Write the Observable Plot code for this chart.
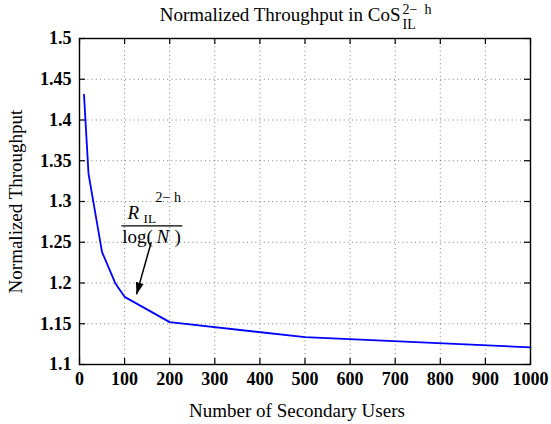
<!DOCTYPE html>
<html><head><meta charset="utf-8">
<script src="https://cdn.jsdelivr.net/npm/d3@7"></script>
<script src="https://cdn.jsdelivr.net/npm/@observablehq/plot@0.6"></script>
<style>
body{margin:0;background:#fff}
#chart svg{display:block}
#chart svg text{font-family:'Liberation Serif','Times New Roman',serif !important}
#chart svg g[aria-label$="tick label"] text, #chart svg g[aria-label$="tick label"]{font-family:'Liberation Serif','Times New Roman',serif !important;font-weight:bold !important;font-size:18px !important;font-variant:normal !important}
</style>
</head><body><div id="chart"></div>
<script>
// ---- data ----
const users = [10, 20, 50, 80, 100, 200, 500, 1000];
const throughput = [1.431, 1.334, 1.238, 1.199, 1.183, 1.152, 1.1335, 1.121];
const xTicks = [0, 100, 200, 300, 400, 500, 600, 700, 800, 900, 1000];
const yTicks = [1.1, 1.15, 1.2, 1.25, 1.3, 1.35, 1.4, 1.45, 1.5];
const yTickLabels = ["1.1", "1.15", "1.2", "1.25", "1.3", "1.35", "1.4", "1.45", "1.5"];
const titleMain = "Normalized Throughput in CoS";
const titleSup = "2\u2212\u2002h";
const titleSub = "IL";
const xLabel = "Number of Secondary Users";
const yLabel = "Normalized Throughput";
// annotation anchored in data space
const annotAnchor = [{x: 100, y: 1.27}];
const fracBar = [{x1: 93, x2: 228, y: 1.27}];
const arrowSeg = [{x1: 159, y1: 1.250, x2: 126.4, y2: 1.186}];

const W = 551, H = 424, mL = 79, mR = 21, mT = 38, mB = 60;
const plotW = W - mL - mR, plotH = H - mT - mB;
const data = users.map((u, i) => ({u, t: throughput[i]}));

function headMarker(color, context) {
  const ns = "http://www.w3.org/2000/svg";
  const m = document.createElementNS(ns, "marker");
  m.setAttribute("viewBox", "0 -5 12 10");
  m.setAttribute("markerWidth", 12);
  m.setAttribute("markerHeight", 10);
  m.setAttribute("refX", 12);
  m.setAttribute("refY", 0);
  m.setAttribute("orient", "auto");
  m.setAttribute("markerUnits", "userSpaceOnUse");
  const p = document.createElementNS(ns, "path");
  p.setAttribute("d", "M0,-4L12,0L0,4Z");
  p.setAttribute("fill", "black");
  p.setAttribute("stroke", "none");
  m.appendChild(p);
  return m;
}

const chart = Plot.plot({
  width: W, height: H,
  marginLeft: mL, marginRight: mR, marginTop: mT, marginBottom: mB,
  style: {fontFamily: "'Liberation Serif', 'Times New Roman', serif", background: "white", color: "black"},
  x: {domain: [0, 1000]},
  y: {domain: [1.1, 1.5]},
  marks: [
    Plot.gridX(xTicks.slice(1, -1), {stroke: "#000", strokeOpacity: 0.5, strokeDasharray: "1,3.2"}),
    Plot.gridY(yTicks.slice(1, -1), {stroke: "#000", strokeOpacity: 0.5, strokeDasharray: "1,3.2"}),
    Plot.tickX(xTicks, {x: d => d, insetTop: plotH - 6, stroke: "black", strokeWidth: 1.2}),
    Plot.tickX(xTicks, {x: d => d, insetBottom: plotH - 6, stroke: "black", strokeWidth: 1.2}),
    Plot.tickY(yTicks, {y: d => d, insetRight: plotW - 6, stroke: "black", strokeWidth: 1.2}),
    Plot.tickY(yTicks, {y: d => d, insetLeft: plotW - 6, stroke: "black", strokeWidth: 1.2}),
    Plot.axisX({ticks: xTicks, tickSize: 0, tickPadding: 8, fontSize: 18, fontWeight: "bold", label: null, tickFormat: d => String(d)}),
    Plot.axisY({ticks: yTicks, tickSize: 0, tickPadding: 8, fontSize: 18, fontWeight: "bold", label: null, tickFormat: d => yTickLabels[yTicks.indexOf(d)]}),
    Plot.line(data, {x: "u", y: "t", stroke: "#0000ff", strokeWidth: 1.8}),
    Plot.frame({stroke: "black", strokeWidth: 1.4}),
    // annotation
    Plot.text(annotAnchor, {x: "x", y: "y", text: () => "R", fontStyle: "italic", fontSize: 19, textAnchor: "start", lineAnchor: "bottom", dx: 3, dy: -6.5}),
    Plot.text(annotAnchor, {x: "x", y: "y", text: () => "IL", fontSize: 13, textAnchor: "start", lineAnchor: "bottom", dx: 19, dy: -2.5}),
    Plot.text(annotAnchor, {x: "x", y: "y", text: () => "2\u2212 h", fontSize: 14, textAnchor: "start", lineAnchor: "bottom", dx: 31, dy: -24}),
    Plot.link(fracBar, {x1: "x1", x2: "x2", y1: "y", y2: "y", stroke: "black", strokeWidth: 1.3}),
    Plot.text(annotAnchor, {x: "x", y: "y", text: () => "log(", fontSize: 19, textAnchor: "start", lineAnchor: "bottom", dx: -2.4, dy: 17.5}),
    Plot.text(annotAnchor, {x: "x", y: "y", text: () => "N", fontStyle: "italic", fontSize: 19, textAnchor: "start", lineAnchor: "bottom", dx: 32, dy: 17.5}),
    Plot.text(annotAnchor, {x: "x", y: "y", text: () => ")", fontSize: 19, textAnchor: "start", lineAnchor: "bottom", dx: 50, dy: 17.5}),
    Plot.link(arrowSeg, {x1: "x1", y1: "y1", x2: "x2", y2: "y2", stroke: "black", strokeWidth: 1.5, markerEnd: headMarker}),
    // title and axis labels
    Plot.text([titleMain], {frameAnchor: "top-left", dx: 321, dy: -18, textAnchor: "end", lineAnchor: "bottom", fontSize: 19}),
    Plot.text([titleSup], {frameAnchor: "top-left", dx: 323, dy: -25, textAnchor: "start", lineAnchor: "bottom", fontSize: 14}),
    Plot.text([titleSub], {frameAnchor: "top-left", dx: 323, dy: -10, textAnchor: "start", lineAnchor: "bottom", fontSize: 14}),
    Plot.text([xLabel], {frameAnchor: "bottom", dx: -8, dy: 52, lineAnchor: "bottom", fontSize: 19}),
    Plot.text([yLabel], {frameAnchor: "left", textAnchor: "middle", rotate: -90, dx: -58, lineAnchor: "bottom", fontSize: 19})
  ]
});
document.getElementById("chart").appendChild(chart);
</script>
</body></html>
